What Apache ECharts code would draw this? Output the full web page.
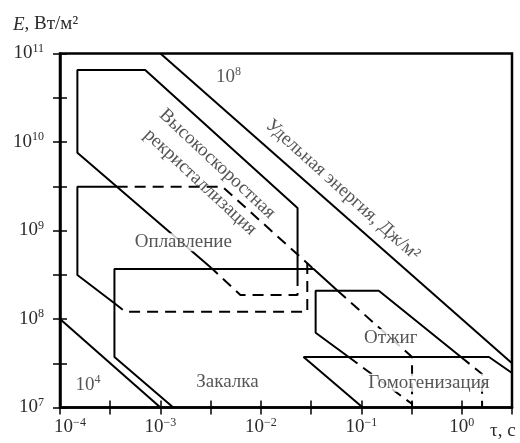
<!DOCTYPE html>
<html>
<head>
<meta charset="utf-8">
<script src="https://cdn.jsdelivr.net/npm/echarts@6/dist/echarts.min.js"></script>
<style>html,body{margin:0;padding:0;background:#fff}#c{width:520px;height:443px}</style>
</head>
<body>
<div id="c"></div>
<script>
// All coordinates are [log10(tau, s), log10(E, W/m^2)]
const xTicks = [-4, -3, -2, -1, 0];           // 10^-4 ... 10^0
const yTicks = [7, 8, 9, 10, 11];             // 10^7 ... 10^11

// lines of constant specific energy
const energy1e4 = [[-4, 8], [-3, 7]];
const energy1e8 = [[-3, 11], [0.5, 7.5]];

// High-speed recrystallization region
const recrystSolid = [[-2.493, 8.576], [-3.827, 9.879], [-3.827, 10.814], [-3.152, 10.814], [-1.635, 9.254], [-1.635, 8.497]];
const recrystDashed = [[-1.635, 8.497], [-1.635, 8.271], [-2.204, 8.271], [-2.493, 8.576]];

// Melting region
const meltSolid = [[-3.461, 8.181], [-3.827, 8.497], [-3.827, 9.495], [-3.436, 9.495]];
const meltDashedTop = [[-3.436, 9.495], [-2.383, 9.495], [-1.475, 8.565]];
const meltDashedBottom = [[-3.461, 8.181], [-3.351, 8.082], [-1.538, 8.082], [-1.538, 8.633]];

// Quenching region
const quenchSolid = [[-2.872, 7], [-3.458, 7.571], [-3.458, 8.565], [-1.475, 8.565], [-1.236, 8.32]];
const quenchDashed = [[-1.236, 8.32], [-0.495, 7.571], [-0.495, 7]];

// Annealing region
const annealSolid = [[-1.126, 7.571], [-1.455, 7.845], [-1.455, 8.32], [-0.826, 8.32], [-0.008, 7.571]];
const annealDashedRight = [[-0.008, 7.571], [0.202, 7.379], [0.202, 7]];
const annealDashedLeft = [[-1.126, 7.571], [-0.495, 7.04]];

// Homogenization region
const homogSolid = [[-0.986, 7], [-1.575, 7.571], [0.271, 7.571], [0.5, 7.39]];

// text annotations: [text, log tau, log E, rotation, white background]
const annotations = [
  ['Оплавление', -2.772, 8.868, 0, true],
  ['Закалка', -2.333, 7.288, 0, false],
  ['Отжиг', -0.707, 7.785, 0, true],
  ['Гомогенизация', -0.327, 7.28, 0, true],
  ['{b|10}{s|8}', -2.323, 10.734, 0, false],
  ['{b|10}{s|4}', -3.72, 7.254, 0, false],
  ['Высокоскоростная\nрекристаллизация', -2.52, 9.65, -43, false],
  ['Удельная энергия, Дж/м²', -1.186, 9.458, -42, false]
];

const FONT = "'Liberation Serif', 'Times New Roman', serif";
const TXT = '#2b2b2b';
const rich = {
  b: {fontFamily: FONT, fontSize: 19, color: TXT, lineHeight: 22},
  s: {fontFamily: FONT, fontSize: 12, color: TXT, verticalAlign: 'top', lineHeight: 12},
  sp: {width: 20}
};
const isInt = v => Math.abs(v - Math.round(v)) < 1e-6;
const supText = v => { const r = Math.round(v); return r < 0 ? '−' + (-r) : String(r); };

function lineSeries(data, dashed) {
  return {
    type: 'line', data: data, symbol: 'none', showSymbol: false, silent: true, z: 3,
    lineStyle: {color: '#000', width: 2, type: dashed ? [11, 7] : 'solid'}
  };
}

const chart = echarts.init(document.getElementById('c'), null, {renderer: 'canvas'});
const axisBase = {type: 'value', splitLine: {show: false}};
chart.setOption({
  animation: false,
  backgroundColor: '#fff',
  grid: {left: 60, right: 8, top: 53.5, bottom: 35.5, show: true, borderColor: '#000', borderWidth: 2.5},
  xAxis: [
    Object.assign({}, axisBase, {
      min: -4, max: 0.5, interval: 0.5, position: 'bottom',
      axisLine: {onZero: false, lineStyle: {color: '#000', width: 2.5}},
      axisTick: {inside: true, length: 7, lineStyle: {color: '#000', width: 1.5}},
      axisLabel: {
        margin: 9, rich: rich,
        formatter: v => isInt(v) && xTicks.includes(Math.round(v))
          ? (Math.round(v) === -4 ? '{sp| }' : '') + '{b|10}{s|' + supText(v) + '}' : ''
      }
    }),
    Object.assign({}, axisBase, {
      min: -4, max: 0.5, interval: 0.5, position: 'bottom',
      axisLine: {show: false, onZero: false},
      axisTick: {inside: false, length: 7, lineStyle: {color: '#000', width: 1.5}},
      axisLabel: {show: false}
    })
  ],
  yAxis: [
    Object.assign({}, axisBase, {
      min: 7, max: 11, interval: 0.5, position: 'left',
      axisLine: {onZero: false, lineStyle: {color: '#000', width: 2.5}},
      axisTick: {inside: true, length: 7, lineStyle: {color: '#000', width: 1.5}},
      axisLabel: {
        margin: 16, rich: rich,
        formatter: v => isInt(v) && yTicks.includes(Math.round(v)) ? '{b|10}{s|' + supText(v) + '}' : ''
      }
    }),
    Object.assign({}, axisBase, {
      min: 7, max: 11, interval: 0.5, position: 'left',
      axisLine: {show: false, onZero: false},
      axisTick: {inside: false, length: 7, lineStyle: {color: '#000', width: 1.5}},
      axisLabel: {show: false}
    })
  ],
  graphic: [
    {type: 'text', left: 13, top: 15, style: {
      text: '{i|E}{n|, Вт/м²}', rich: {
        i: {fontFamily: FONT, fontSize: 19, fontStyle: 'italic', fill: TXT},
        n: {fontFamily: FONT, fontSize: 19, fill: TXT}
      }}},
    {type: 'text', left: 490, top: 422, style: {text: 'τ, с', fontFamily: FONT, fontSize: 19, fill: TXT}}
  ],
  series: [
    lineSeries(energy1e4, false),
    lineSeries(energy1e8, false),
    lineSeries(recrystSolid, false),
    lineSeries(recrystDashed, true),
    lineSeries(meltSolid, false),
    lineSeries(meltDashedTop, true),
    lineSeries(meltDashedBottom, true),
    lineSeries(quenchSolid, false),
    lineSeries(quenchDashed, true),
    lineSeries(annealSolid, false),
    lineSeries(annealDashedRight, true),
    lineSeries(annealDashedLeft, true),
    lineSeries(homogSolid, false),
    {
      type: 'scatter', z: 6, silent: true, symbolSize: 1,
      itemStyle: {color: 'rgba(0,0,0,0)'},
      data: annotations.map(a => ({
        value: [a[1], a[2]],
        label: {
          show: true, position: 'inside', formatter: a[0], rotate: a[3],
          fontFamily: FONT, fontSize: 19, color: TXT, lineHeight: a[4] ? 18 : 25, align: 'center',
          backgroundColor: a[4] ? '#fff' : 'transparent', padding: a[4] ? [0, 2] : 0,
          rich: rich
        }
      }))
    }
  ]
});
</script>
</body>
</html>
